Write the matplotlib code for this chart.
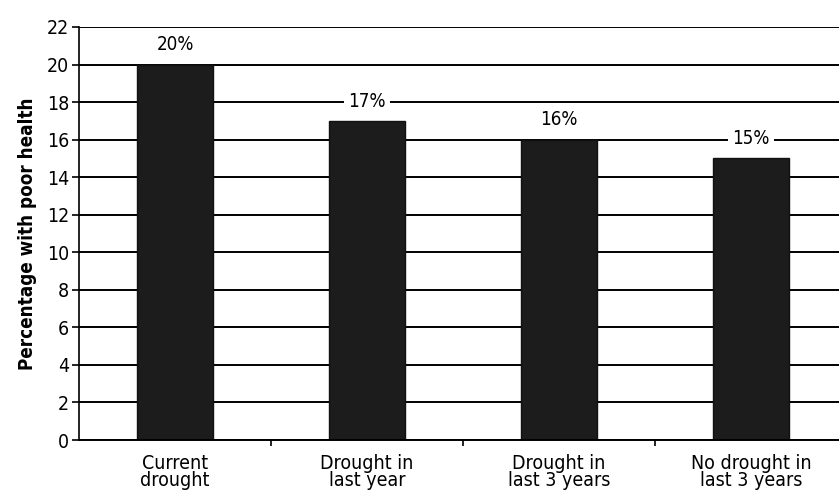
import matplotlib.pyplot as plt

categories = ["Current\ndrought", "Drought in\nlast year", "Drought in\nlast 3 years", "No drought in\nlast 3 years"]
values = [20, 17, 16, 15]
value_labels = ["20%", "17%", "16%", "15%"]
y_ticks = list(range(0, 23, 2))

plt.rcParams['font.family'] = ['DejaVu Sans']
plt.rcParams['font.stretch'] = 'condensed'

fig = plt.figure(figsize=(8.39, 4.93), dpi=100, facecolor='white')
ax = fig.add_axes([79 / 839, 53 / 493, 768 / 839, 413 / 493])

x = list(range(len(categories)))
ax.set_axisbelow(True)
ax.yaxis.grid(True, color='black', linewidth=1.4)
ax.bar(x, values, width=0.4, color='#1c1c1c', edgecolor='#111111', zorder=2)

# value labels sit on white patches that break the gridlines
for xi, v, lab in zip(x, values, value_labels):
    ax.text(xi, v + 1.05, lab, ha='center', va='center', fontsize=13.5,
            fontstretch='condensed',
            bbox=dict(facecolor='white', edgecolor='none', pad=3), zorder=3)

ax.set_xlim(-0.5, 3.5)
ax.set_ylim(0, 22)
ax.set_yticks(y_ticks)
ax.tick_params(axis='y', labelsize=14, length=5, width=1.2, pad=2)

ax.set_xticks(x)
ax.set_xticklabels(categories, fontsize=14, linespacing=0.85, fontstretch='condensed')
ax.set_xticks([0.5, 1.5, 2.5], minor=True)
ax.tick_params(axis='x', which='major', length=0, pad=10)
ax.tick_params(axis='x', which='minor', length=4, width=1.2, direction='out')

ax.set_ylabel("Percentage with poor health", fontsize=13.5, fontweight='bold',
              fontstretch='condensed', labelpad=7)

for side in ['top', 'right']:
    ax.spines[side].set_visible(False)
ax.spines['left'].set_linewidth(1.2)
ax.spines['bottom'].set_linewidth(1.4)

fig.savefig("out.png", dpi=100, facecolor='white')
